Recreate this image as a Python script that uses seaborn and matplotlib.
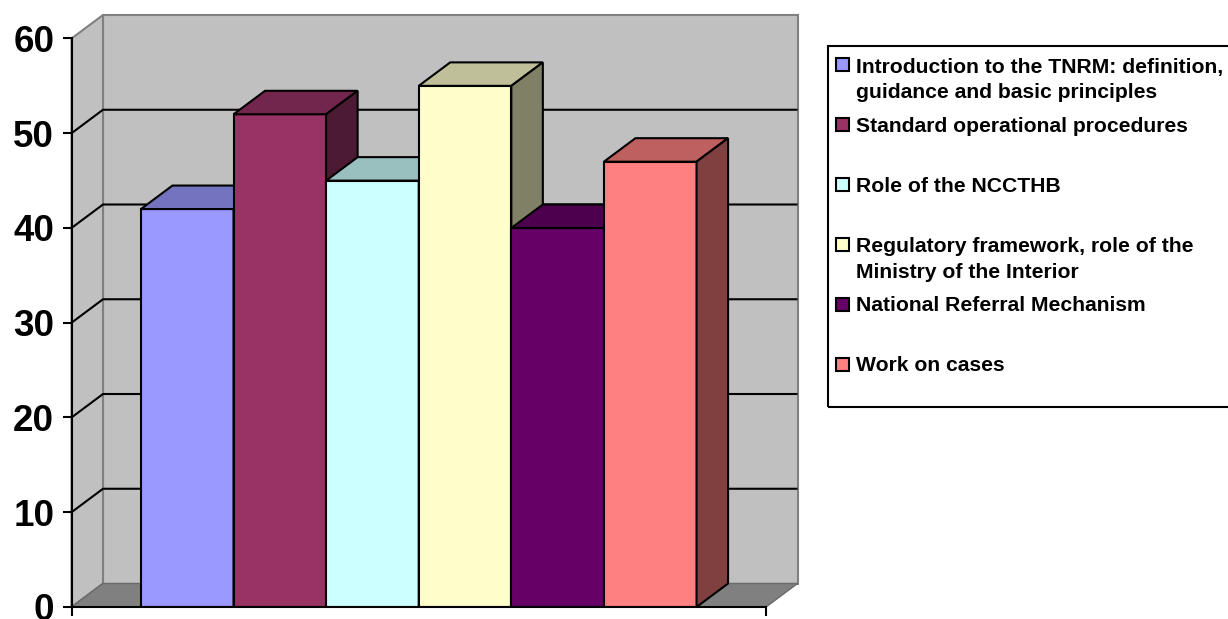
import numpy as np
import pandas as pd
import matplotlib
matplotlib.use("Agg")
import matplotlib.pyplot as plt
import matplotlib.colors as mcolors
from matplotlib.patches import Polygon, Rectangle
import seaborn as sns

# ---------------- data ----------------
categories = [
    "Introduction to the TNRM: definition,\nguidance and basic principles",
    "Standard operational procedures",
    "Role of the NCCTHB",
    "Regulatory framework, role of the\nMinistry of the Interior",
    "National Referral Mechanism",
    "Work on cases",
]
values = [42, 52, 45, 55, 40, 47]
colors = ["#9999FF", "#993366", "#CCFFFF", "#FFFFCC", "#660066", "#FF8080"]
yticks = [0, 10, 20, 30, 40, 50, 60]

# ---------------- style ----------------
sns.set_style("white")
plt.rcParams['font.family'] = ['Liberation Sans', 'DejaVu Sans']
plt.rcParams['font.weight'] = 'bold'
plt.rcParams['text.color'] = 'black'

W, H = 1228, 619
fig = plt.figure(figsize=(W / 100, H / 100), dpi=100)

# plot area in pixel coordinates (front-left axis to back-right wall)
ax_l, ax_r, ax_t, ax_b = 71.5, 797.5, 15.0, 607.0
ax = fig.add_axes([ax_l / W, 1 - ax_b / H, (ax_r - ax_l) / W, (ax_b - ax_t) / H])
ax.set_facecolor("none")

df = pd.DataFrame({"grp": [""] * len(values), "cat": categories, "val": values})
sns.barplot(data=df, x="grp", y="val", hue="cat", hue_order=categories,
            palette=colors, saturation=1, width=0.8, edgecolor="black",
            linewidth=1.5, legend=False, ax=ax)
bars = sorted(list(ax.patches), key=lambda p: p.get_x())

ymax = yticks[-1]
front_px = 766.0 - 71.5
px_per_y = (607.0 - 38.3) / 60.0
dx = 31.5 / front_px
dy = 23.5 / px_per_y
x0, x1 = -0.5, 0.5
ax.set_xlim(x0, x1 + dx)
ax.set_ylim(0, ymax + dy)

wall_c, wall_edge = "#C0C0C0", "#808080"
ax.add_patch(Polygon([(x0 + dx, dy), (x1 + dx, dy), (x1 + dx, ymax + dy), (x0 + dx, ymax + dy)],
                     closed=True, fc=wall_c, ec=wall_edge, lw=1.5, zorder=0.5, clip_on=False))
ax.add_patch(Polygon([(x0, 0), (x0 + dx, dy), (x0 + dx, ymax + dy), (x0, ymax)],
                     closed=True, fc=wall_c, ec=wall_edge, lw=1.5, zorder=0.5, clip_on=False))
ax.add_patch(Polygon([(x0, 0), (x1, 0), (x1 + dx, dy), (x0 + dx, dy)],
                     closed=True, fc="#808080", ec="#6A6A6A", lw=1.0, zorder=0.6, clip_on=False))
for v in yticks[1:-1]:
    ax.plot([x0, x0 + dx, x1 + dx], [v, v + dy, v + dy], color="black", lw=1.5,
            zorder=0.7, clip_on=False, solid_capstyle="butt")


def shade(c, f):
    r, g, b, a = mcolors.to_rgba(c)
    return (r * f, g * f, b * f, 1.0)


for i, p in enumerate(bars):
    z = 2 + i
    p.set_zorder(z)
    bx0 = p.get_x()
    bw = p.get_width()
    bx1 = bx0 + bw
    h = p.get_height()
    fc = p.get_facecolor()
    top = Polygon([(bx0, h), (bx1, h), (bx1 + dx, h + dy), (bx0 + dx, h + dy)], closed=True,
                  fc=shade(fc, 0.75), ec="black", lw=1.5, zorder=z, clip_on=False, joinstyle="miter")
    side = Polygon([(bx1, 0), (bx1, h), (bx1 + dx, h + dy), (bx1 + dx, dy)], closed=True,
                   fc=shade(fc, 0.5), ec="black", lw=1.5, zorder=z, clip_on=False, joinstyle="miter")
    ax.add_patch(top)
    ax.add_patch(side)

# axes decoration
for s in ["top", "right"]:
    ax.spines[s].set_visible(False)
ax.spines["left"].set_bounds(0, ymax)
ax.spines["bottom"].set_bounds(x0, x1)
for s in ["left", "bottom"]:
    ax.spines[s].set_color("black")
    ax.spines[s].set_linewidth(1.5)
    ax.spines[s].set_zorder(20)
ax.set_yticks(yticks)
ax.set_yticklabels([str(t) for t in yticks], fontsize=26.5, fontweight="bold")
ax.set_xticks([x0, x1])
ax.set_xticklabels(["", ""])
ax.tick_params(axis="y", left=True, length=6.5, width=1.5, direction="out", pad=6, colors="black")
ax.tick_params(axis="x", bottom=True, length=6.5, width=1.5, direction="out", colors="black")
ax.set_xlabel("")
ax.set_ylabel("")

# ---------------- legend (manual, Excel style) ----------------
def fx(px):
    return px / W


def fy(py):
    return 1 - py / H


fig.add_artist(Rectangle((fx(827.5), fy(407)), fx(1240) - fx(827.5), (407 - 46) / H,
                         transform=fig.transFigure, fill=False, ec="black", lw=1.5))
line_gap = 26.3
for i, (lab, col) in enumerate(zip(categories, colors)):
    cy = 64.7 + i * 59.9
    n_lines = lab.count("\n") + 1
    fig.add_artist(Rectangle((fx(835.5), fy(cy + 6.5)), 13 / W, 13 / H,
                             transform=fig.transFigure, fc=col, ec="black", lw=1.5))
    fig.text(fx(855.5), fy(cy + 7 + (n_lines - 1) * line_gap), lab, fontsize=15.25,
             fontweight="bold", color="black", ha="left", va="baseline", linespacing=1.43)

fig.savefig("out.png", dpi=100)
